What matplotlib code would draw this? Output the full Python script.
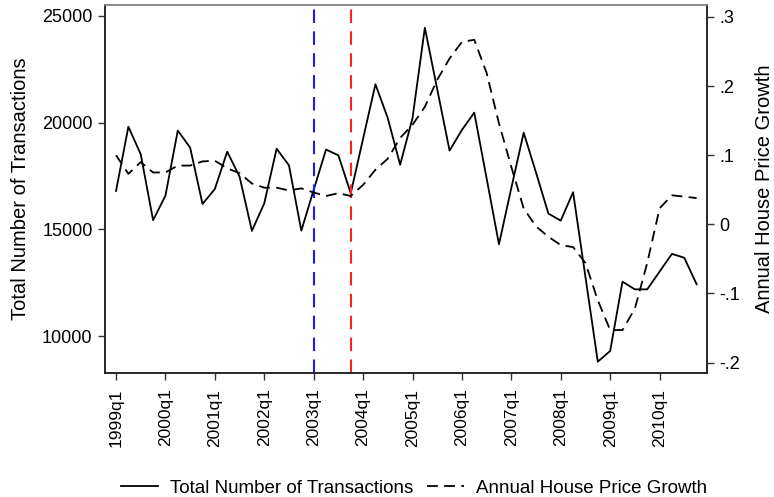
import matplotlib
matplotlib.use("Agg")
import matplotlib.pyplot as plt
import numpy as np

plt.rcParams['font.family'] = ['Liberation Sans', 'DejaVu Sans']

# quarterly observations, 1999q1 .. 2010q4
years = list(range(1999, 2011))
quarters = [f"{y}q{q}" for y in years for q in range(1, 5)]

transactions = [16800, 19810, 18520, 15430, 16580, 19630, 18830, 16190,
                16890, 18640, 17470, 14930, 16220, 18780, 18000, 14940,
                16850, 18740, 18470, 16690, 19250, 21800, 20210, 18030,
                20210, 24450, 21570, 18690, 19660, 20470, 17390, 14300,
                16940, 19530, 17660, 15740, 15410, 16740, 12770, 8800,
                9300, 12550, 12190, 12190, 13020, 13850, 13670, 12430]

price_growth = [0.100, 0.073, 0.090, 0.075, 0.075, 0.085, 0.085, 0.091,
                0.092, 0.081, 0.074, 0.059, 0.053, 0.053, 0.049, 0.052,
                0.046, 0.041, 0.045, 0.041, 0.057, 0.079, 0.095, 0.125,
                0.144, 0.170, 0.209, 0.240, 0.264, 0.267, 0.219, 0.146,
                0.083, 0.023, -0.003, -0.018, -0.030, -0.033, -0.056, -0.110,
                -0.153, -0.153, -0.122, -0.056, 0.023, 0.042, 0.040, 0.038]

left_ticks = [10000, 15000, 20000, 25000]
right_ticks = [-0.2, -0.1, 0.0, 0.1, 0.2, 0.3]
right_labels = ["-.2", "-.1", "0", ".1", ".2", ".3"]

# policy dates marked with vertical lines
events = [("2003q1", "#1a1aff"), ("2003q4", "#ff2020")]

x = np.arange(len(quarters))

fig = plt.figure(figsize=(7.74, 4.97), dpi=100)
ax = fig.add_axes([0.1357, 0.2489, 0.9128 - 0.1357, 0.990 - 0.2489])
ax2 = ax.twinx()

l1, = ax.plot(x, transactions, color='black', lw=1.3,
              label="Total Number of Transactions")
l2, = ax2.plot(x, price_growth, color='black', lw=1.3, ls=(0, (6, 3.5)),
               label="Annual House Price Growth")

for q, c in events:
    ax.axvline(quarters.index(q), color=c, lw=1.5, ls=(0, (6.5, 4)))

ax.set_xlim(-0.89, 47.8)
ax.set_ylim(8256, 25515)
ax2.set_ylim(-0.2156, 0.3174)

ax.set_yticks(left_ticks)
ax.set_yticklabels([str(v) for v in left_ticks])
ax2.set_yticks(right_ticks)
ax2.set_yticklabels(right_labels)

tick_pos = [i for i, q in enumerate(quarters) if q.endswith("q1")]
ax.set_xticks(tick_pos)
ax.set_xticklabels([quarters[i] for i in tick_pos], rotation=90)

for a in (ax, ax2):
    a.tick_params(direction='out', length=5, width=1, labelsize=13,
                  color='#333333', pad=4)
    for s in a.spines.values():
        s.set_linewidth(1.1)
        s.set_color('#222222')
ax.tick_params(axis='x', labelsize=12.5, pad=6)
ax.spines['top'].set_color('#888888')
ax2.spines['top'].set_color('#888888')

ax.set_ylabel("Total Number of Transactions", fontsize=14.5, labelpad=8.5)
ax2.set_ylabel("Annual House Price Growth", fontsize=14.5, labelpad=11)

fig.legend(handles=[l1, l2], loc='center', bbox_to_anchor=(0.535, 0.018),
           ncol=2, frameon=False, fontsize=13.5, handlelength=2.0,
           columnspacing=0.7, handletextpad=0.64)

fig.savefig("out.png", dpi=100)
